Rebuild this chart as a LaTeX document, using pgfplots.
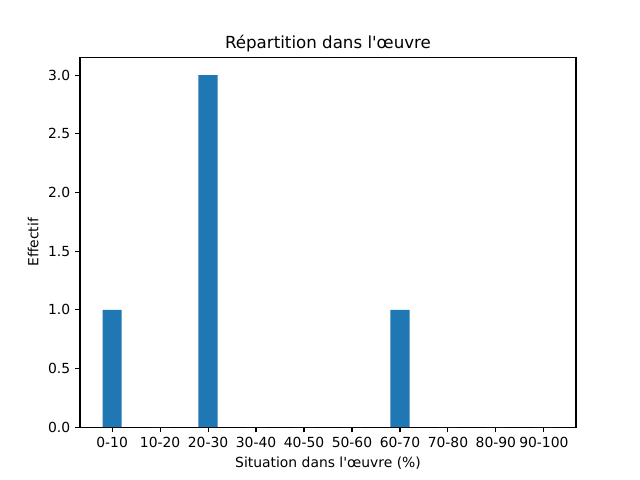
\documentclass[border=0pt]{standalone}
\usepackage{fontspec}
\setmainfont{DejaVu Sans}[Ligatures=TeXOff]
\usepackage{pgfplots}
\pgfplotsset{compat=1.18}
\definecolor{mplblue}{HTML}{1F77B4}
\begin{document}
\fontsize{10pt}{12pt}\selectfont
\begin{tikzpicture}
\useasboundingbox (0,0) rectangle (460.8pt,345.6pt);
\begin{axis}[
  at={(57.6pt,38.016pt)}, anchor=south west,
  scale only axis, width=357.12pt, height=266.11pt,
  xmin=-0.67, xmax=9.67, ymin=0, ymax=3.15,
  xtick={0,1,2,3,4,5,6,7,8,9},
  xticklabels={0-10,10-20,20-30,30-40,40-50,50-60,60-70,70-80,80-90,90-100},
  ytick={0,0.5,1,1.5,2,2.5,3},
  yticklabel style={/pgf/number format/.cd,fixed,fixed zerofill,precision=1},
  /pgf/number format/assume math mode=true,
  tick align=outside, tick pos=left,
  major tick length=3.5pt,
  every tick/.style={black, line width=0.8pt},
  axis line style={line width=0.8pt},
  ticklabel style={font=\fontsize{10pt}{12pt}\selectfont},
  title={Répartition dans l'œuvre},
  title style={font=\fontsize{12pt}{14pt}\selectfont, at={(0.5,1)}, anchor=south, yshift=-5.2pt},
  xlabel={Situation dans l'œuvre (\%)},
  ylabel={Effectif},
  label style={font=\fontsize{10pt}{12pt}\selectfont},
  ybar, bar width=0.4, bar shift=0pt,
]
\addplot[fill=mplblue, draw=none] coordinates {
  (0,1) (1,0) (2,3) (3,0) (4,0) (5,0) (6,1) (7,0) (8,0) (9,0)
};
\end{axis}
\end{tikzpicture}
\end{document}
